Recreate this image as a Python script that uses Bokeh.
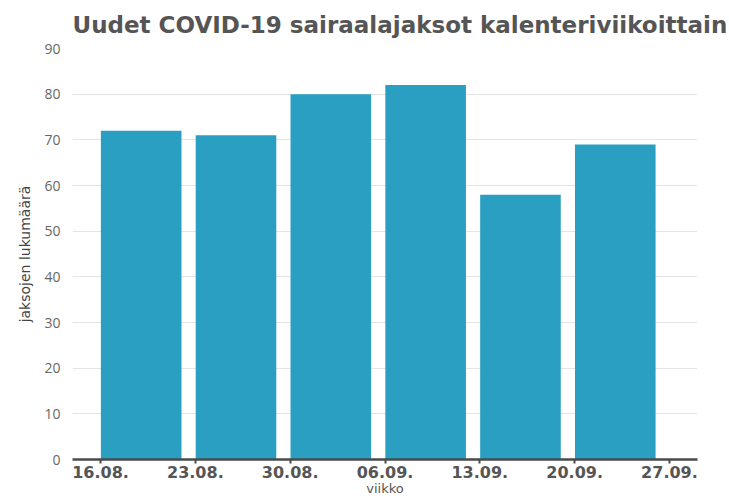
import pandas as pd
from bokeh.plotting import figure
from bokeh.models import Range1d, FixedTicker, ColumnDataSource
from bokeh.embed import file_html
from bokeh.resources import INLINE

# ---- data ----
title_text = "Uudet COVID-19 sairaalajaksot kalenteriviikoittain"
week_starts = ["2020-08-16", "2020-08-23", "2020-08-30", "2020-09-06", "2020-09-13", "2020-09-20"]
counts = [72, 71, 80, 82, 58, 69]
tick_dates = ["2020-08-16", "2020-08-23", "2020-08-30", "2020-09-06", "2020-09-13", "2020-09-20", "2020-09-27"]
tick_labels = ["16.08.", "23.08.", "30.08.", "06.09.", "13.09.", "20.09.", "27.09."]
y_ticks = [0, 10, 20, 30, 40, 50, 60, 70, 80, 90]

DAY = pd.Timedelta(days=1)
starts = pd.to_datetime(week_starts)
centers = starts + 3 * DAY
bar_width_ms = 0.85 * 7 * 86400000

tick_ts = pd.to_datetime(tick_dates)
tick_ms = [int(t.value // 10**6) for t in tick_ts]
pad = 2.07 * DAY
x_start = tick_ts[0] - pad
x_end = tick_ts[-1] + pad
y_max = y_ticks[-1]

src = ColumnDataSource(dict(x=centers, top=counts))

p = figure(width=729, height=499, x_axis_type="datetime",
           output_backend="svg", toolbar_location=None,
           x_range=Range1d(x_start, x_end), y_range=Range1d(0, y_max),
           min_border_left=72, min_border_right=32, min_border_top=48, min_border_bottom=40,
           title=title_text)

p.vbar(x="x", top="top", width=bar_width_ms, source=src,
       fill_color="#2a9fc2", line_color=None)

# title
p.title.text_font = "DejaVu Sans"
p.title.text_font_size = "23px"
p.title.text_font_style = "bold"
p.title.text_color = "#555555"
p.title.align = "left"
p.title.vertical_align = "top"
p.title.standoff = 17

p.outline_line_color = None
p.xgrid.grid_line_color = None
p.ygrid.grid_line_color = "#e4e4e4"
p.ygrid.grid_line_width = 1

# x axis
xa = p.xaxis[0]
xa.ticker = FixedTicker(ticks=tick_ms)
xa.major_label_overrides = {m: lab for m, lab in zip(tick_ms, tick_labels)}
xa.axis_line_color = "#4a4a4a"
xa.axis_line_width = 2.5
xa.major_tick_line_color = "#4a4a4a"
xa.major_tick_line_width = 2
xa.major_tick_in = 0
xa.major_tick_out = 4
xa.minor_tick_line_color = None
xa.major_label_standoff = 2
xa.major_label_text_font = "DejaVu Sans"
xa.major_label_text_font_size = "16px"
xa.major_label_text_font_style = "bold"
xa.major_label_text_color = "#555555"
xa.axis_label = "viikko"
xa.axis_label_text_font = "DejaVu Sans"
xa.axis_label_text_font_size = "13px"
xa.axis_label_text_font_style = "normal"
xa.axis_label_text_color = "#555555"
xa.axis_label_standoff = 0

# y axis
ya = p.yaxis[0]
ya.ticker = FixedTicker(ticks=y_ticks)
ya.axis_line_color = None
ya.major_tick_line_color = None
ya.minor_tick_line_color = None
ya.major_tick_out = 0
ya.major_tick_in = 0
ya.major_label_standoff = 12
ya.major_label_text_font = "Open Sans"
ya.major_label_text_font_size = "14px"
ya.major_label_text_color = "#666666"
ya.axis_label = "jaksojen lukumäärä"
ya.axis_label_text_font = "DejaVu Sans"
ya.axis_label_text_font_size = "14px"
ya.axis_label_text_font_style = "normal"
ya.axis_label_text_color = "#444444"
ya.axis_label_standoff = 8

open("out.html", "w").write(file_html(p, INLINE))
